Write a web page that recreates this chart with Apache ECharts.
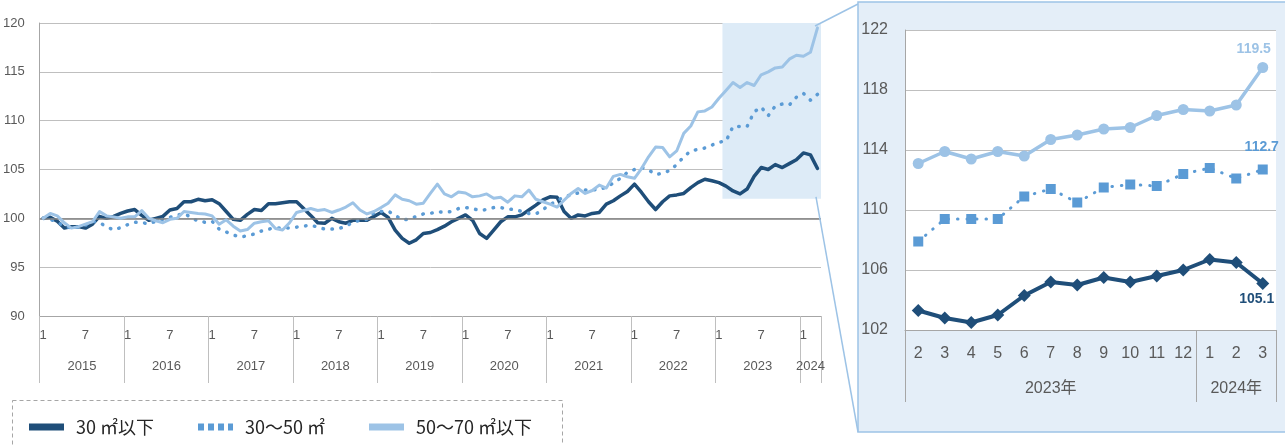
<!DOCTYPE html>
<html><head><meta charset="utf-8">
<script src="https://cdn.jsdelivr.net/npm/echarts@6/dist/echarts.min.js"></script>
<style>html,body{margin:0;padding:0;background:#fff}#c{width:1285px;height:445px}</style>
</head><body><div id="c"></div>
<script>
// ---- categories ----
const years = [2015, 2016, 2017, 2018, 2019, 2020, 2021, 2022, 2023, 2024];
const monthsPerYear = [12, 12, 12, 12, 12, 12, 12, 12, 12, 3];
const insetStart = '2023-2';
const seriesNames = ['30 ㎡以下', '30～50 ㎡', '50～70 ㎡以下'];
// ---- tick settings ----
const mainY = { min: 90, max: 120, interval: 5 };
const insetY = { min: 102, max: 122, interval: 4 };
// ---- series values (index, 2015-01 = 100) ----
const under30 = [
  100.0, 100.1, 99.7, 99.0, 99.15, 99.15, 99.0, 99.4, 100.2, 100.0,
  100.2, 100.5, 100.75, 100.9, 100.3, 99.8, 100.0, 100.2, 100.85, 101.0,
  101.7, 101.7, 101.95, 101.8, 101.9, 101.5, 100.7, 99.9, 99.8, 100.4,
  100.9, 100.8, 101.5, 101.5, 101.6, 101.7, 101.7, 101.0, 100.3, 99.55,
  99.5, 100.0, 99.65, 99.5, 99.8, 99.8, 99.8, 100.2, 100.6, 100.1,
  98.8, 97.95, 97.45, 97.8, 98.45, 98.55, 98.85, 99.2, 99.65, 100.0,
  100.35, 99.8, 98.45, 97.95, 98.8, 99.65, 100.15, 100.15, 100.35, 100.85,
  101.35, 101.9, 102.2, 102.15, 100.7, 100.0, 100.35, 100.25, 100.5, 100.6,
  101.45, 101.8, 102.3, 102.75, 103.5, 102.65, 101.7, 100.9, 101.7, 102.3,
  102.4, 102.55, 103.15, 103.65, 104.0, 103.85, 103.65,
  103.3, 102.8, 102.5, 103.0, 104.3, 105.2, 105.0, 105.5, 105.2, 105.6, 106.0, 106.7, 106.5, 105.1
];
const from30to50 = [
  100.0, 99.9, 99.6, 99.2, 99.0, 99.1, 99.3, 99.7, 99.55, 99.15,
  98.8, 99.05, 99.35, 99.6, 99.55, 99.45, 99.7, 99.9, 100.1, 100.3,
  100.5, 100.1, 99.7, 99.6, 99.7, 98.9, 98.6, 98.3, 98.1, 98.2,
  98.4, 98.7, 98.9, 99.0, 99.0, 99.0, 99.1, 99.2, 99.3, 99.1,
  98.9, 98.9, 98.95, 99.2, 99.6, 99.8, 99.9, 100.6, 100.7, 100.75,
  100.3, 99.85, 99.9, 100.2, 100.45, 100.5, 100.7, 100.6, 100.7, 101.0,
  101.1, 101.0, 100.8, 100.9, 101.1, 101.1, 100.95, 100.9, 100.7, 100.5,
  100.45, 100.9, 101.4, 101.8, 102.2, 102.4, 102.6, 102.9, 102.9, 102.95,
  103.2, 103.6, 104.1, 104.7, 105.0, 105.2, 104.95, 104.5, 104.6, 104.9,
  105.5, 106.3, 106.9, 107.05, 107.2, 107.5, 107.8,
  107.9, 109.4, 109.4, 109.4, 110.9, 111.4, 110.5, 111.5, 111.7, 111.6, 112.4, 112.8, 112.1, 112.7
];
const from50to70 = [
  100.0, 100.5, 100.25, 99.55, 99.0, 99.15, 99.4, 99.65, 100.7, 100.25,
  100.15, 100.0, 100.15, 100.15, 100.8, 100.0, 99.75, 99.55, 99.9, 100.0,
  100.7, 100.6, 100.5, 100.45, 100.25, 99.4, 99.85, 99.2, 98.7, 98.85,
  99.5, 99.65, 99.75, 98.95, 98.8, 99.55, 100.6, 100.8, 101.0, 100.8,
  100.9, 100.6, 100.85, 101.15, 101.6, 100.85, 100.45, 100.7, 101.1, 101.55,
  102.4, 101.95, 101.8, 101.45, 101.55, 102.55, 103.5, 102.5, 102.2, 102.7,
  102.6, 102.2, 102.3, 102.5, 102.05, 102.15, 101.65, 102.3, 102.2, 102.9,
  101.95, 101.7, 101.45, 101.15, 101.85, 102.55, 103.05, 102.55, 102.85, 103.4,
  103.1, 104.3, 104.5, 104.25, 104.1, 105.1, 106.3, 107.3, 107.25, 106.3,
  106.9, 108.7, 109.45, 110.9, 111.0, 111.4, 112.3,
  113.1, 113.9, 113.4, 113.9, 113.6, 114.7, 115.0, 115.4, 115.5, 116.3, 116.7, 116.6, 117.0, 119.5
];

const colors = ['#1F4E79', '#5B9BD5', '#9DC3E6'];
const NUM_FONT = '"Liberation Sans", "Noto Sans CJK JP", sans-serif';
const CJK_FONT = '"Noto Sans CJK JP", "Liberation Sans", sans-serif';
const AX_COLOR = '#595959';
const GRID_COLOR = '#BFBFBF';

// build categories "YYYY-M"
const cats = [];
years.forEach((y, k) => { for (let m = 1; m <= monthsPerYear[k]; m++) cats.push(y + '-' + m); });
const insetIdx = cats.indexOf(insetStart);
const insetCats = cats.slice(insetIdx);
const inset = [under30, from30to50, from50to70].map(a => a.slice(insetIdx));

// middle label index per year group
function yearMids(list) {
  const groups = {};
  list.forEach((c, i) => { const y = c.split('-')[0]; (groups[y] = groups[y] || []).push(i); });
  const mid = new Map();
  Object.keys(groups).forEach(y => {
    const g = groups[y];
    mid.set(g[Math.floor(g.length / 2)], { year: y, even: g.length % 2 === 0 });
  });
  return mid;
}
const mainMid = yearMids(cats);
const insetMid = yearMids(insetCats);
const monthOf = c => +c.split('-')[1];

const chart = echarts.init(document.getElementById('c'), null, { renderer: 'canvas' });

const mainLineWidths = [3.5, 3.5, 3];
function mainSeries(k, data) {
  const ls = { color: colors[k], width: mainLineWidths[k], cap: 'round', join: 'round' };
  if (k === 1) { ls.type = [0.5, 8.5]; }
  return {
    name: seriesNames[k], type: 'line', xAxisIndex: 0, yAxisIndex: 0, data: data,
    showSymbol: false, symbol: 'none', lineStyle: ls, itemStyle: { color: colors[k] },
    z: 3 + k, emphasis: { disabled: true }
  };
}
const insetSymbols = ['diamond', 'rect', 'circle'];
const insetSymbolSize = [13, 10, 11];
const insetWidths = [4, 3, 3.5];
const labelCfg = [
  { position: 'bottom', distance: 2, offset: [-6, 0] },
  { position: 'top', distance: 10, offset: [-1, 0] },
  { position: 'top', distance: 6, offset: [-9, 0] }
];
function insetSeries(k, data) {
  const ls = { color: colors[k], width: insetWidths[k], cap: 'round', join: 'round' };
  if (k === 1) { ls.type = [0.5, 9]; }
  return {
    name: seriesNames[k], type: 'line', xAxisIndex: 3, yAxisIndex: 1, data: data,
    symbol: insetSymbols[k], symbolSize: insetSymbolSize[k], showSymbol: true,
    lineStyle: ls, itemStyle: { color: colors[k], borderWidth: 0 },
    z: 3 + k, emphasis: { disabled: true },
    label: {
      show: true, position: labelCfg[k].position, distance: labelCfg[k].distance,
      offset: labelCfg[k].offset, color: colors[k], fontSize: 14, fontWeight: 'bold',
      fontFamily: NUM_FONT,
      formatter: p => p.dataIndex === data.length - 1 ? p.value.toFixed(1) : ''
    }
  };
}

const axisText = (size) => ({ color: AX_COLOR, fontSize: size, fontFamily: NUM_FONT });

const option = {
  animation: false,
  backgroundColor: '#ffffff',
  grid: [
    { left: 38, top: 23, right: 464, bottom: 129, containLabel: false },
    { left: 905, top: 30, right: 9, bottom: 115, containLabel: false, show: true, backgroundColor: '#ffffff', borderWidth: 0 }
  ],
  xAxis: [
    { // main months
      type: 'category', gridIndex: 0, position: 'bottom', data: cats, boundaryGap: true,
      axisLine: { show: true, lineStyle: { color: '#A6A6A6', width: 1 } },
      axisTick: { show: true, length: 67, lineStyle: { color: GRID_COLOR }, interval: (i) => monthOf(cats[i]) === 1 },
      axisLabel: Object.assign(axisText(13), { margin: 13, interval: (i) => { const m = monthOf(cats[i]); return m === 1 || m === 7; }, formatter: v => String(monthOf(v)) }),
      splitLine: { show: false }
    },
    { // main years
      type: 'category', gridIndex: 0, position: 'bottom', offset: 0, data: cats, boundaryGap: true,
      axisLine: { show: false }, axisTick: { show: false },
      axisLabel: Object.assign(axisText(13), {
        margin: 44, interval: (i) => mainMid.has(i),
        formatter: (v, i) => { const inf = mainMid.get(i); if (!inf) return ''; return inf.even ? '{e|' + inf.year + '}' : inf.year; },
        rich: { e: { padding: [0, 7, 0, 0], color: AX_COLOR, fontSize: 13, fontFamily: NUM_FONT } }
      })
    },
    { // helper value axis for shading
      type: 'value', gridIndex: 0, min: 0, max: cats.length, show: false
    },
    { // inset months
      type: 'category', gridIndex: 1, position: 'bottom', data: insetCats, boundaryGap: true,
      axisLine: { show: true, lineStyle: { color: '#A6A6A6', width: 1 } },
      axisTick: { show: true, length: 72, lineStyle: { color: '#A6A6A6' }, interval: (i) => i === 0 || monthOf(insetCats[i]) === 1 },
      axisLabel: Object.assign(axisText(16), { margin: 16, interval: 0, formatter: v => String(monthOf(v)) })
    },
    { // inset years
      type: 'category', gridIndex: 1, position: 'bottom', offset: 0, data: insetCats, boundaryGap: true,
      axisLine: { show: false }, axisTick: { show: false },
      axisLabel: Object.assign(axisText(16), {
        margin: 51, interval: (i) => insetMid.has(i),
        formatter: (v, i) => { const inf = insetMid.get(i); if (!inf) return ''; return inf.even ? '{e|' + inf.year + '年}' : inf.year + '年'; },
        rich: { e: { padding: [0, 26, 0, 0], color: AX_COLOR, fontSize: 16, fontFamily: NUM_FONT } }
      })
    }
  ],
  yAxis: [
    {
      type: 'value', gridIndex: 0, min: mainY.min, max: mainY.max, interval: mainY.interval,
      axisLine: { show: true, lineStyle: { color: '#A6A6A6' } }, axisTick: { show: false },
      axisLabel: Object.assign(axisText(13), { margin: 15 }),
      splitLine: { show: true, lineStyle: { color: GRID_COLOR, width: 1 } }
    },
    {
      type: 'value', gridIndex: 1, min: insetY.min, max: insetY.max, interval: insetY.interval,
      axisLine: { show: true, lineStyle: { color: '#A6A6A6' } }, axisTick: { show: false },
      axisLabel: Object.assign(axisText(16), { margin: 17 }),
      splitLine: { show: true, lineStyle: { color: GRID_COLOR, width: 1 } }
    }
  ],
  legend: {
    left: 29, top: 418, padding: 0, itemGap: 44, itemWidth: 35, itemHeight: 7,
    textStyle: { fontSize: 18, color: '#262626', fontFamily: CJK_FONT, padding: [0, 6, 0, 7] },
    itemStyle: { borderWidth: 0 },
    data: [
      { name: seriesNames[0], icon: 'rect' },
      { name: seriesNames[1], icon: 'path://M0,0h6v7h-6zM10,0h6v7h-6zM20,0h6v7h-6zM30,0h5v7h-5z' },
      { name: seriesNames[2], icon: 'rect' }
    ]
  },
  series: [
    {
      name: 'helper', type: 'line', xAxisIndex: 2, yAxisIndex: 0, data: [[0, null]],
      symbol: 'none', z: 1, silent: true,
      markArea: {
        silent: true, itemStyle: { color: '#DDEBF7' },
        data: [[{ coord: [insetIdx, insetY.min] }, { coord: [cats.length, mainY.max] }]]
      },
      markLine: {
        silent: true, symbol: 'none', label: { show: false },
        lineStyle: { color: '#808080', width: 1.5, type: 'solid' },
        data: [{ yAxis: 100 }]
      }
    },
    mainSeries(0, under30), mainSeries(1, from30to50), mainSeries(2, from50to70),
    insetSeries(0, inset[0]), insetSeries(1, inset[1]), insetSeries(2, inset[2])
  ],
  graphic: []
};
chart.setOption(option);

function decorations() {
  const tr = chart.convertToPixel({ xAxisIndex: 2, yAxisIndex: 0 }, [cats.length, mainY.max]);
  const br = chart.convertToPixel({ xAxisIndex: 2, yAxisIndex: 0 }, [cats.length, insetY.min]);
  const panel = { x: 858, y: 2, w: 440, h: 430 };
  return [
    { id: 'panel', type: 'rect', z: -10, silent: true, shape: { x: panel.x, y: panel.y, width: panel.w, height: panel.h },
      style: { fill: '#E4EEF8', stroke: '#9DC3E6', lineWidth: 1.5 } },
    { id: 'legbox', type: 'rect', z: -10, silent: true, shape: { x: 12.5, y: 400.5, width: 550, height: 60 },
      style: { fill: 'none', stroke: '#A6A6A6', lineWidth: 1, lineDash: [4, 3] } },
    { id: 'c1', type: 'line', z: 10, silent: true, shape: { x1: tr[0] - 6, y1: tr[1] + 3, x2: panel.x, y2: panel.y + 2 },
      style: { stroke: '#9DC3E6', lineWidth: 1.5 } },
    { id: 'c2', type: 'line', z: 10, silent: true, shape: { x1: br[0] - 5, y1: br[1] - 2, x2: panel.x, y2: panel.y + panel.h },
      style: { stroke: '#9DC3E6', lineWidth: 1.5 } }
  ];
}
chart.setOption({ graphic: decorations() });
</script>
</body></html>
